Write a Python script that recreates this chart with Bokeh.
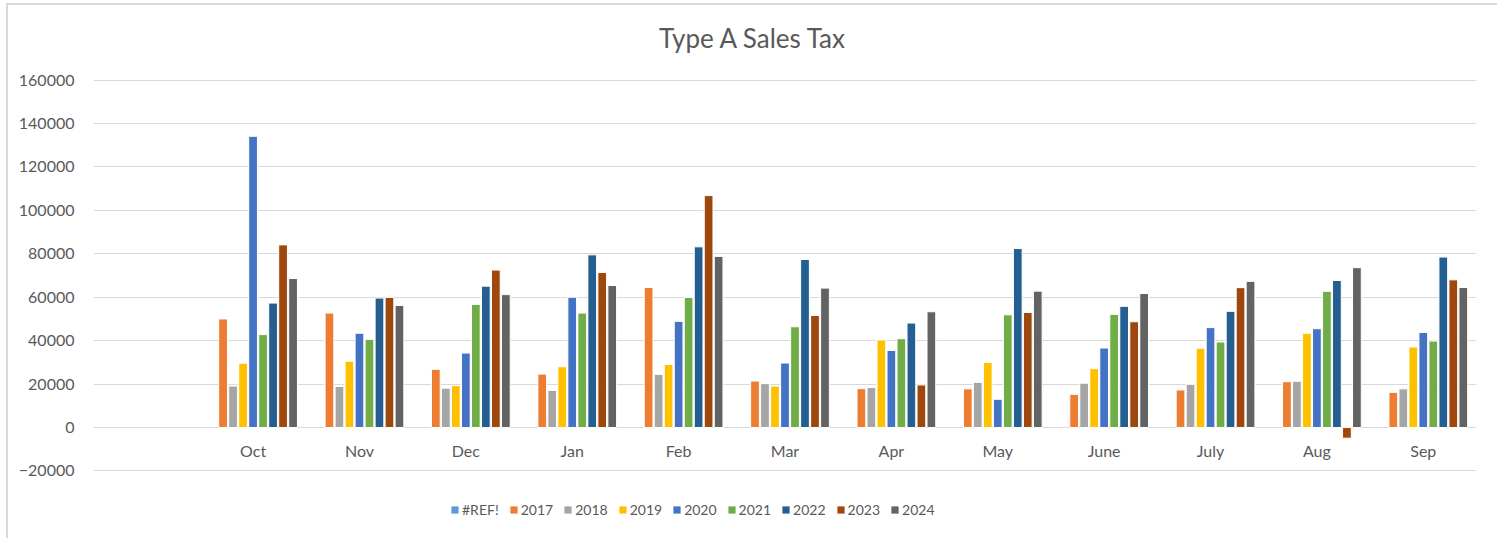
from bokeh.plotting import figure
from bokeh.layouts import column
from bokeh.models import (ColumnDataSource, FactorRange, Range1d, FixedTicker,
                          BasicTickFormatter, Legend, LegendItem, Label)
from bokeh.transform import dodge
from bokeh.core.properties import value
from bokeh.embed import file_html
from bokeh.resources import INLINE

title_text = "Type A Sales Tax"
months = ["Oct", "Nov", "Dec", "Jan", "Feb", "Mar", "Apr", "May", "June", "July", "Aug", "Sep"]
series_names = ["#REF!", "2017", "2018", "2019", "2020", "2021", "2022", "2023", "2024"]
colors = ["#5B9BD5", "#ED7D31", "#A5A5A5", "#FFC000", "#4472C4", "#70AD47", "#255E91", "#9E480E", "#636363"]

v_ref = []  # #REF! series has no values
v2017 = [50000, 52700, 26800, 24600, 64500, 21400, 17900, 17800, 15300, 17300, 21100, 16200]
v2018 = [19100, 18900, 18100, 17100, 24500, 20200, 18400, 20800, 20400, 19900, 21300, 17800]
v2019 = [29600, 30500, 19300, 28000, 29000, 19100, 40300, 30000, 27100, 36500, 43400, 37100]
v2020 = [134100, 43400, 34300, 60000, 48900, 29700, 35500, 13000, 36600, 46000, 45500, 43800]
v2021 = [42800, 40600, 56700, 52700, 59900, 46400, 40900, 51900, 52100, 39400, 62700, 39800]
v2022 = [57300, 59600, 65100, 79500, 83200, 77400, 48100, 82400, 55800, 53500, 67700, 78500]
v2023 = [84100, 59900, 72500, 71400, 106800, 51600, 19600, 53000, 48700, 64400, -4900, 68000]
v2024 = [68600, 56200, 61200, 65400, 78800, 64200, 53300, 62800, 61700, 67300, 73600, 64500]
all_values = [v_ref, v2017, v2018, v2019, v2020, v2021, v2022, v2023, v2024]

y_ticks = [-20000, 0, 20000, 40000, 60000, 80000, 100000, 120000, 140000, 160000]

FONT = "Lato"
TXT = "#595959"
W = 1489
ML, MR = 85, 21


def blank(fig):
    fig.axis.visible = False
    fig.grid.visible = False
    fig.outline_line_color = None
    fig.border_fill_color = "white"
    fig.background_fill_color = "white"


# ---- title strip -------------------------------------------------------
tf = figure(width=W, height=66, output_backend="svg", toolbar_location=None,
            x_range=Range1d(0, 1), y_range=Range1d(0, 1),
            min_border_left=ML, min_border_right=MR, min_border_top=0, min_border_bottom=0)
blank(tf)
tf.add_layout(Label(x=0.477, y=0.515, text=title_text, text_align="center",
                    text_baseline="middle", text_font=FONT, text_font_size="26px",
                    text_color=TXT))

# ---- main chart --------------------------------------------------------
factors = [" "] + months
p = figure(x_range=FactorRange(*factors, range_padding=0),
           y_range=Range1d(-20250, 160250),
           width=W, height=412, output_backend="svg", toolbar_location=None,
           min_border_left=ML, min_border_right=MR, min_border_top=8, min_border_bottom=12)

p.outline_line_color = None
p.background_fill_color = "white"
p.border_fill_color = "white"

p.xaxis.visible = False
p.xgrid.grid_line_color = None
p.ygrid.grid_line_color = "#D9D9D9"
p.ygrid.grid_line_width = 1

yax = p.yaxis[0]
yax.ticker = FixedTicker(ticks=y_ticks)
yax.formatter = BasicTickFormatter(use_scientific=False)
yax.axis_line_color = None
yax.major_tick_line_color = None
yax.minor_tick_line_color = None
yax.major_label_text_font = FONT
yax.major_label_text_font_size = "16px"
yax.major_label_text_color = TXT
yax.major_label_standoff = 13

pitch = 0.094
for k, (name, vals, col) in enumerate(zip(series_names, all_values, colors)):
    src = ColumnDataSource(dict(x=months[:len(vals)], top=vals))
    p.vbar(x=dodge("x", (k - 4) * pitch, range=p.x_range), top="top", bottom=0,
           width=0.082, source=src, fill_color=col, line_color="white", line_width=1)

# category labels next to the zero line
p.text(x=months, y=[0] * len(months), text=months, y_offset=23,
       text_align="center", text_baseline="middle",
       text_font=value(FONT), text_font_size="16px", text_color=TXT)

# ---- legend strip ------------------------------------------------------
lf = figure(width=W, height=55, output_backend="svg", toolbar_location=None,
            x_range=Range1d(0, 1), y_range=Range1d(0, 1),
            min_border_left=ML, min_border_right=MR, min_border_top=0, min_border_bottom=0)
blank(lf)
nan = float("nan")
items = []
for name, col in zip(series_names, colors):
    r = lf.vbar(x=[nan], top=[nan], width=0.1, fill_color=col, line_color=None)
    items.append(LegendItem(label=name, renderers=[r]))

legend = Legend(items=items, orientation="horizontal", location=(357, 20))
legend.border_line_color = None
legend.background_fill_alpha = 0
legend.glyph_width = 9
legend.glyph_height = 9
legend.label_standoff = 3
legend.spacing = 10
legend.padding = 0
legend.margin = 0
legend.label_text_font = FONT
legend.label_text_font_size = "14px"
legend.label_text_color = TXT
legend.label_height = 14
lf.add_layout(legend)

layout = column(tf, p, lf, spacing=0,
                styles={"border-left": "2px solid #D9D9D9", "border-top": "2px solid #D9D9D9",
                        "margin-left": "6px", "margin-top": "3px"})
open("out.html", "w").write(file_html(layout, INLINE))
